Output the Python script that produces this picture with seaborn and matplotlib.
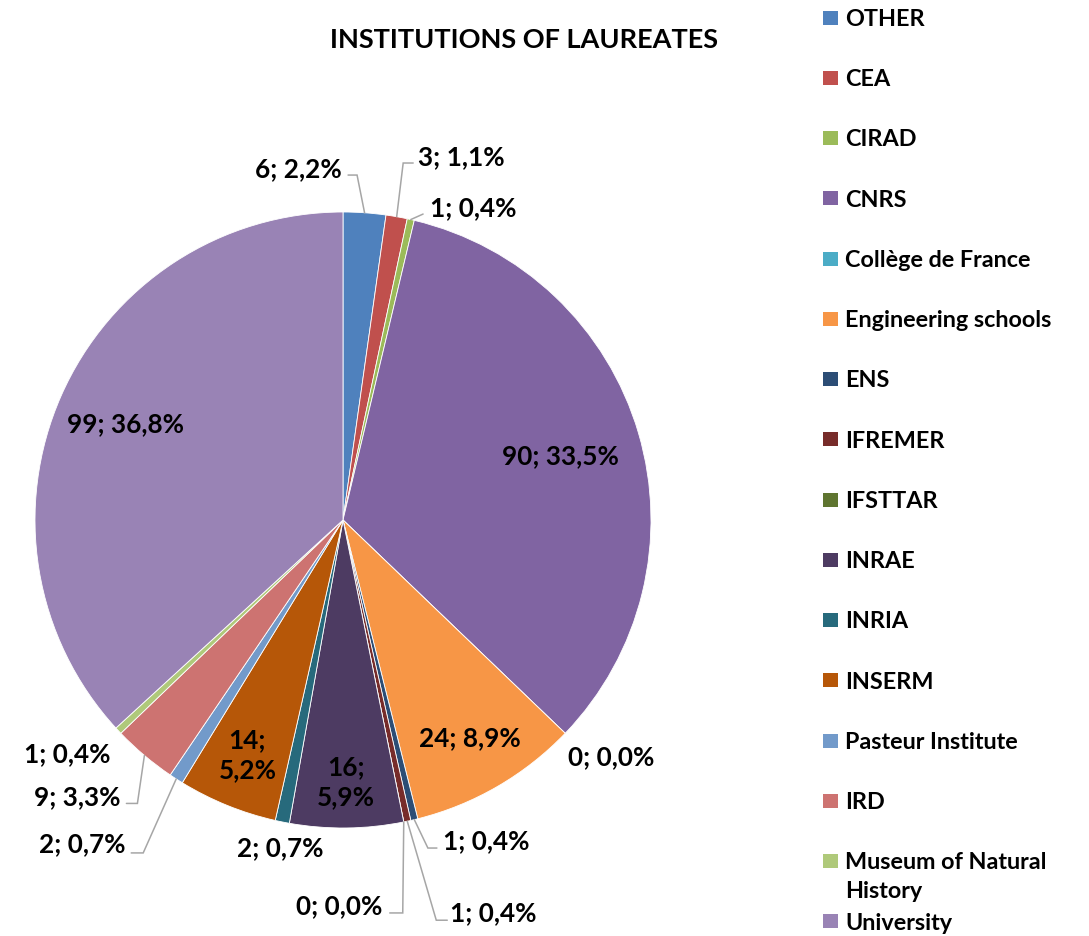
import textwrap
import numpy as np
import matplotlib
matplotlib.use("Agg")
import matplotlib.pyplot as plt
from matplotlib.patches import Rectangle
import seaborn as sns

# ---------------- data ----------------
categories = ["OTHER", "CEA", "CIRAD", "CNRS", "Collège de France",
              "Engineering schools", "ENS", "IFREMER", "IFSTTAR", "INRAE",
              "INRIA", "INSERM", "Pasteur Institute", "IRD",
              "Museum of Natural History", "University"]
counts = [6, 3, 1, 90, 0, 24, 1, 1, 0, 16, 2, 14, 2, 9, 1, 99]
title = "INSTITUTIONS OF LAUREATES"

colors_hex = ["#4F81BD", "#C0504D", "#9BBB59", "#8064A2", "#4BACC6",
              "#F79646", "#2C4D75", "#772C2A", "#5F7530", "#4D3B62",
              "#276A7C", "#B65708", "#729ACA", "#CD7371", "#AFC97A",
              "#9983B5"]

# ---------------- layout (pixels) ----------------
W, H = 1089, 936
CX, CY, R = 343, 520, 308
FONT = ["Lato", "DejaVu Sans"]
WEIGHT = "bold"
LABEL_FS = 18.8
LEGEND_FS = 16.8
TITLE_FS = 19.5
LEADER_COLOR = "#A6A6A6"

# inside labels: radial fraction ; outside labels: text offset from wedge edge
inside = {"CNRS": 0.735, "Engineering schools": 0.82, "INRAE": 0.85,
          "INSERM": 0.825, "University": 0.77}
two_line = {"INRAE", "INSERM"}
outside = {  # name: (dx, dy, ha, leader [(dx,dy) start, (dx,dy) elbow] or None)
    "OTHER": (-22.5, -45.5, "right", [(-16.5, -37.7), (-7.5, -37.7)]),
    "CEA": (21.5, -60.7, "left", [(16.5, -53.7), (6.5, -53.7)]),
    "CIRAD": (19.3, -12.5, "left", [(12.3, -5.5), (12.3, -5.5)]),
    "Collège de France": (3, 22, "left", None),
    "ENS": (28.6, 20.4, "left", [(22.6, 28.4), (13.6, 28.4)]),
    "IFREMER": (43, 91, "left", [(40, 99), (29, 99)]),
    "IFSTTAR": (-21, 83, "right", [(-14, 91), (-1, 91)]),
    "INRIA": (-2, 25, "center", None),
    "Pasteur Institute": (-51, 64, "right", [(-45, 74), (-33, 74)]),
    "IRD": (-24, 40, "right", [(-18, 48), (-7, 48)]),
    "Museum of Natural History": (-8, 22, "right", None),
}
LEG_X_SQ, LEG_X_TXT, LEG_Y0, LEG_DY = 823, 845, 17.5, 60.25
LEG_SQ_W, LEG_SQ_H = 15, 14
LEG_WRAP = 20
LEG_LINE_GAP = 29


def X(px):
    return (px - CX) / R


def Y(py):
    return (CY - py) / R


sns.set_theme(style="white")
plt.rcParams["font.family"] = FONT
palette = sns.color_palette(colors_hex)

fig = plt.figure(figsize=(W / 100, H / 100), dpi=100)
ax = fig.add_axes([0, 0, 1, 1])
ax.pie(counts, colors=palette, startangle=90, counterclock=False,
       radius=1, center=(0, 0),
       wedgeprops=dict(edgecolor="white", linewidth=0.6))
ax.set_xlim(X(0), X(W))
ax.set_ylim(Y(H), Y(0))
ax.set_aspect("equal", adjustable="box")
ax.axis("off")

total = sum(counts)
cum = np.cumsum([0] + counts)
CAP = LABEL_FS * 100 / 72 * 0.72  # cap height in px

for i, (name, v) in enumerate(zip(categories, counts)):
    pct = f"{100 * v / total:.1f}".replace(".", ",")
    mid = (cum[i] + cum[i + 1]) / 2 / total
    theta = np.deg2rad(90 - 360 * mid)
    ex, ey = np.cos(theta), np.sin(theta)  # edge point (data)
    epx, epy = CX + ex * R, CY - ey * R     # edge point (pixels)
    if name in inside:
        r = inside[name]
        sep = "\n" if name in two_line else " "
        txt = f"{v};{sep}{pct}%"
        ax.text(r * ex, r * ey, txt, ha="center", va="center",
                fontsize=LABEL_FS, fontweight=WEIGHT, color="black",
                linespacing=1.3)
    else:
        dx, dy, ha, leader = outside[name]
        txt = f"{v}; {pct}%"
        ax.text(X(epx + dx), Y(epy + dy + CAP / 2), txt, ha=ha,
                va="baseline", fontsize=LABEL_FS, fontweight=WEIGHT,
                color="black")
        if leader is not None:
            (sx, sy), (bx, by) = leader
            ax.plot([X(epx + sx), X(epx + bx), ex],
                    [Y(epy + sy), Y(epy + by), ey],
                    color=LEADER_COLOR, lw=1.1, clip_on=False,
                    solid_joinstyle="miter")

# legend (drawn manually to keep Excel-like spacing)
LCAP = LEGEND_FS * 100 / 72 * 0.72
for i, (name, col) in enumerate(zip(categories, palette)):
    yc = LEG_Y0 + i * LEG_DY
    ax.add_patch(Rectangle((X(LEG_X_SQ), Y(yc + LEG_SQ_H / 2)),
                           LEG_SQ_W / R, LEG_SQ_H / R, facecolor=col,
                           edgecolor="none", clip_on=False))
    for k, line in enumerate(textwrap.wrap(name, LEG_WRAP)):
        ax.text(X(LEG_X_TXT), Y(yc + LCAP / 2 + k * LEG_LINE_GAP), line,
                ha="left", va="baseline", fontsize=LEGEND_FS,
                fontweight=WEIGHT, color="black")

ax.text(X(524), Y(48), title, ha="center", va="baseline",
        fontsize=TITLE_FS, fontweight=WEIGHT, color="black")

fig.savefig("out.png", dpi=100, facecolor="white")
